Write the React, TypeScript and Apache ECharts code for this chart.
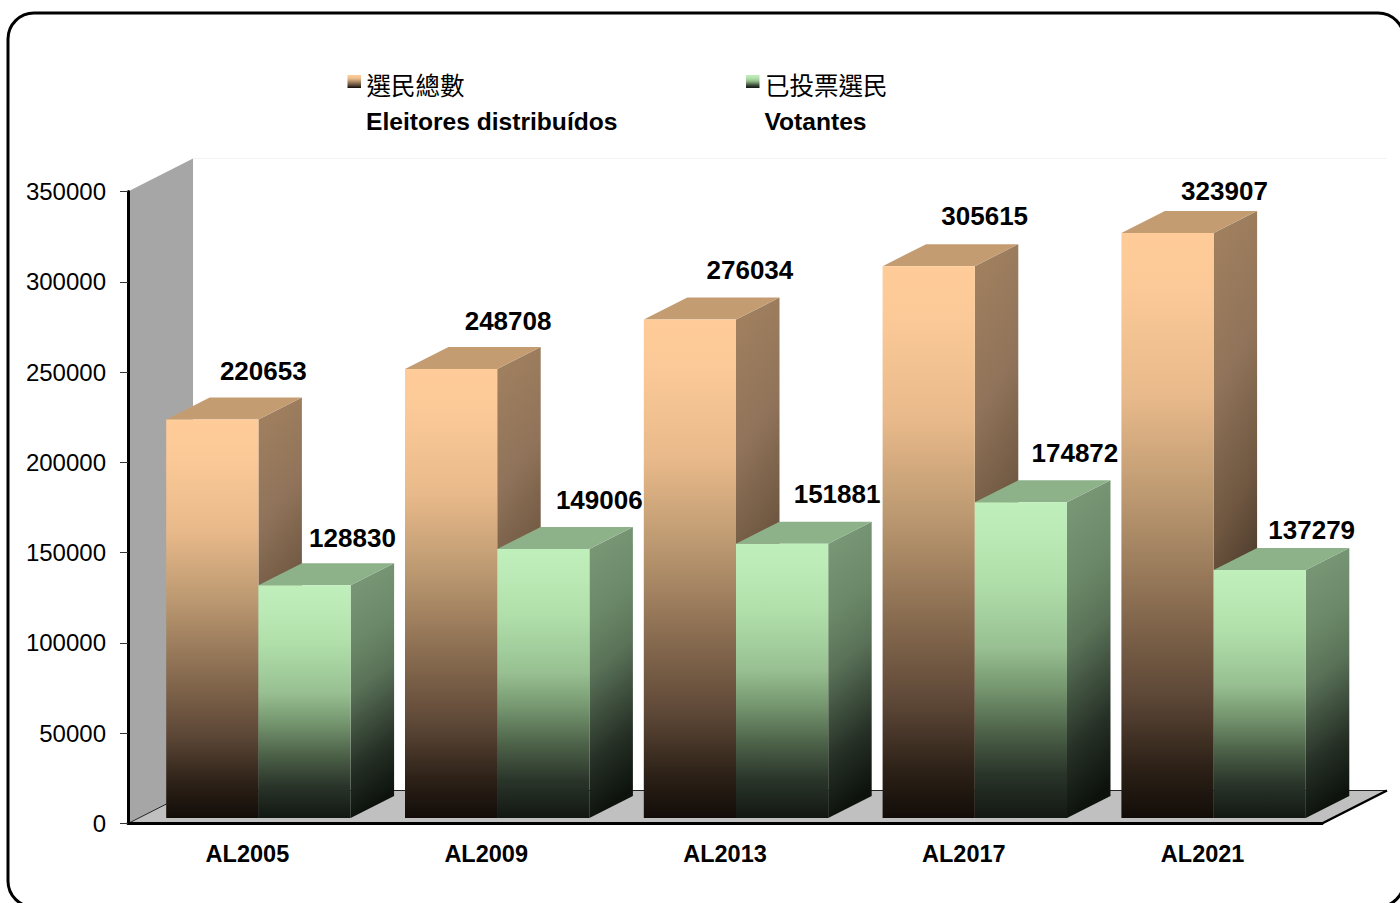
import React, { useEffect, useRef } from "react";
import * as echarts from "echarts";

const categories = ["AL2005", "AL2009", "AL2013", "AL2017", "AL2021"];
const registered = [220653, 248708, 276034, 305615, 323907];
const voters = [128830, 149006, 151881, 174872, 137279];
const nameRegistered = ["選民總數", "Eleitores distribuídos"];
const nameVoters = ["已投票選民", "Votantes"];

// layout constants (pixels)
const labelShiftRegistered = [[51, -49], [57, -48], [60, -50], [56, -50], [57, -42]];
const labelShiftVoters = [[48, -47], [56, -49], [55, -50], [54, -49], [52, -40]];
const GRID = { l: 128, r: 1322, t: 191.5, b: 823.5 };
const WALL = { dx: 65, dy: -33 };
const BAR = { w: 92.2, dx: 43.5, dy: -22, front: -5.5, groupShift: 11 };
const FONT = '"Liberation Sans", Arial, sans-serif';
const CJK = '"Noto Sans CJK TC", "Liberation Sans", sans-serif';

type Stop = [number, string];
type Palette = { front: Stop[]; top: string; side: Stop[] };
const orange: Palette = {
  front: [[0, "#FFCC99"], [0.1, "#FBC997"], [0.28, "#E8B98A"], [0.45, "#BC9971"], [0.68, "#7D6249"], [0.8, "#5A4535"], [0.91, "#2E2218"], [1, "#120C08"]],
  top: "#C49C72",
  side: [[0, "#A3825F"], [0.3, "#90735A"], [0.54, "#6E5640"], [0.8, "#35291E"], [1, "#0D0A07"]],
};
const green: Palette = {
  front: [[0, "#BFEFBB"], [0.1, "#BCEAB6"], [0.25, "#B0DFAA"], [0.46, "#98C092"], [0.59, "#75966F"], [0.73, "#4C6148"], [0.86, "#2A352A"], [1, "#121712"]],
  top: "#8DB28A",
  side: [[0, "#7C9B79"], [0.3, "#6C8A69"], [0.5, "#5A7258"], [0.8, "#263026"], [1, "#0D120D"]],
};

const lin = (stops: Stop[], x2 = 0, y2 = 1) =>
  new echarts.graphic.LinearGradient(0, 0, x2, y2, stops.map(([offset, color]) => ({ offset, color })));

function barRenderer(pal: Palette, side: -1 | 1, shifts: number[][]) {
  return (params: any, api: any) => {
    const i = api.value(0);
    const v = api.value(1);
    const c = api.coord([i, v]);
    const c0 = api.coord([i, 0]);
    const x0 = side < 0 ? c[0] + BAR.groupShift - BAR.w : c[0] + BAR.groupShift;
    const x1 = x0 + BAR.w;
    const yT = c[1] + BAR.front;
    const yB = c0[1] + BAR.front;
    const { dx, dy } = BAR;
    const s = shifts[i];
    return {
      type: "group",
      children: [
        {
          type: "polygon",
          shape: { points: [[x1, yT], [x1 + dx, yT + dy], [x1 + dx, yB + dy], [x1, yB]] },
          style: { fill: lin(pal.side, 0.12, 1) },
        },
        {
          type: "polygon",
          shape: { points: [[x0, yT], [x0 + dx, yT + dy], [x1 + dx, yT + dy], [x1, yT]] },
          style: { fill: pal.top },
        },
        {
          type: "rect",
          shape: { x: x0, y: yT, width: BAR.w, height: yB - yT },
          style: { fill: lin(pal.front) },
        },
        {
          type: "text",
          z2: 20,
          style: {
            text: String(v),
            x: (x0 + x1) / 2 + s[0],
            y: yT + s[1],
            align: "center",
            verticalAlign: "middle",
            font: `bold 26px ${FONT}`,
            fill: "#000",
          },
        },
      ],
    };
  };
}

const legendEntry = (x: number, lines: string[], pal: Palette) => [
  {
    type: "rect",
    shape: { x, y: 75, width: 13.5, height: 13 },
    style: { fill: lin(pal.front) },
    z: 5,
  },
  {
    type: "text",
    style: { text: lines[0], x: x + 19, y: 84, verticalAlign: "middle", font: `24.5px ${CJK}`, fill: "#000" },
    z: 5,
  },
  {
    type: "text",
    style: { text: lines[1], x: x + 18.5, y: 121, verticalAlign: "middle", font: `bold 24.6px ${FONT}`, fill: "#000" },
    z: 5,
  },
];

const backdrop = [
  {
    type: "rect",
    shape: { x: 8, y: 13, width: 1396, height: 894, r: 26 },
    style: { fill: "#fff", stroke: "#000", lineWidth: 3 },
    z: -10,
  },
  {
    type: "polyline",
    shape: { points: [[GRID.l + WALL.dx, GRID.t + WALL.dy], [GRID.r + WALL.dx, GRID.t + WALL.dy]] },
    style: { stroke: "#f4f4f4", lineWidth: 1, fill: "none" },
    z: -9,
  },
  {
    type: "polygon",
    shape: {
      points: [
        [GRID.l, GRID.t],
        [GRID.l + WALL.dx, GRID.t + WALL.dy],
        [GRID.l + WALL.dx, GRID.b + WALL.dy],
        [GRID.l, GRID.b],
      ],
    },
    style: { fill: "#A6A6A6" },
    z: -9,
  },
  {
    type: "polygon",
    shape: {
      points: [
        [GRID.l, GRID.b],
        [GRID.l + WALL.dx, GRID.b + WALL.dy],
        [GRID.r + WALL.dx, GRID.b + WALL.dy],
        [GRID.r, GRID.b],
      ],
    },
    style: { fill: "#C0C0C0", stroke: "#222", lineWidth: 1 },
    z: -8,
  },
  {
    type: "polyline",
    shape: { points: [[GRID.r, GRID.b], [GRID.r + WALL.dx, GRID.b + WALL.dy]] },
    style: { stroke: "#000", lineWidth: 2.5, fill: "none" },
    z: -7,
  },
];

export default function App() {
  const ref = useRef<HTMLDivElement>(null);
  useEffect(() => {
    const chart = echarts.init(ref.current!, undefined, { renderer: "svg" });
    chart.setOption({
      animation: false,
      backgroundColor: "#fff",
      grid: { left: GRID.l, right: 1400 - GRID.r, top: GRID.t, bottom: 903 - GRID.b },
      xAxis: {
        type: "category",
        data: categories,
        axisLine: { lineStyle: { color: "#000", width: 3 } },
        axisTick: { inside: true, length: 7, lineStyle: { color: "#222", width: 1.2 } },
        axisLabel: { margin: 18, color: "#000", fontFamily: FONT, fontWeight: "bold", fontSize: 23.5 },
      },
      yAxis: {
        type: "value",
        min: 0,
        max: 350000,
        interval: 50000,
        axisLine: { show: true, lineStyle: { color: "#000", width: 3 } },
        axisTick: { show: true, length: 8, lineStyle: { color: "#333", width: 1 } },
        splitLine: { show: false },
        axisLabel: {
          margin: 22,
          color: "#000",
          fontFamily: FONT,
          fontSize: 24,
          padding: [5, 0, 0, 0],
          formatter: (v: number) => String(v),
        },
      },
      graphic: { elements: [...backdrop, ...legendEntry(347.5, nameRegistered, orange), ...legendEntry(746, nameVoters, green)] },
      series: [
        {
          type: "custom",
          name: nameRegistered.join(" "),
          renderItem: barRenderer(orange, -1, labelShiftRegistered),
          encode: { x: 0, y: 1 },
          data: registered.map((v, i) => [i, v]),
          clip: false,
          z: 3,
        },
        {
          type: "custom",
          name: nameVoters.join(" "),
          renderItem: barRenderer(green, 1, labelShiftVoters),
          encode: { x: 0, y: 1 },
          data: voters.map((v, i) => [i, v]),
          clip: false,
          z: 4,
        },
      ],
    });
    return () => chart.dispose();
  }, []);
  return <div ref={ref} style={{ position: "fixed", left: 0, top: 0, width: 1400, height: 903 }} />;
}
